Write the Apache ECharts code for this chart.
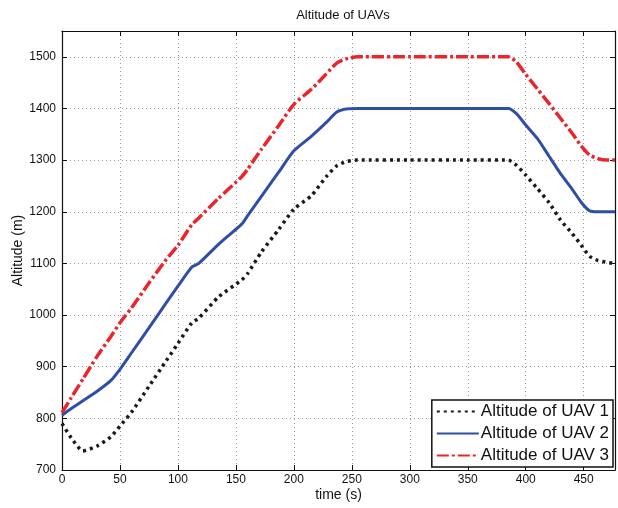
<!DOCTYPE html>
<html>
<head>
<meta charset="utf-8">
<script src="https://cdn.jsdelivr.net/npm/echarts@6/dist/echarts.min.js"></script>
<style>
  html, body { margin: 0; padding: 0; background: #fff; }
  #main { width: 618px; height: 508px; }
</style>
</head>
<body>
<div id="main"></div>
<script>
// time samples (s)
var times = [0, 8, 18, 30, 42, 50, 60, 75, 90, 100, 112, 118, 135, 155, 160, 172, 187, 200, 215, 228, 237, 245, 255, 300, 350, 385, 392, 400, 410, 420, 430, 440, 448, 455, 462, 470, 477];
// altitudes (m)
var uav1 = [790, 762, 737, 746, 764, 785, 812, 862, 912, 945, 985, 994, 1035, 1068, 1080, 1122, 1166, 1205, 1231, 1268, 1289, 1297, 1300, 1300, 1300, 1300, 1290, 1271, 1245, 1218, 1184, 1158, 1135, 1114, 1106, 1102, 1100];
var uav2 = [806, 819, 834, 852, 873, 895, 927, 975, 1024, 1056, 1093, 1100, 1137, 1176, 1192, 1230, 1277, 1318, 1346, 1373, 1393, 1399, 1400, 1400, 1400, 1400, 1390, 1368, 1342, 1308, 1274, 1244, 1218, 1202, 1200, 1200, 1200];
var uav3 = [811, 840, 876, 919, 958, 985, 1014, 1062, 1108, 1135, 1175, 1188, 1226, 1268, 1282, 1321, 1367, 1408, 1437, 1467, 1488, 1496, 1500, 1500, 1500, 1500, 1490, 1466, 1438, 1410, 1381, 1352, 1327, 1310, 1303, 1300, 1300];
var names = ['Altitude of UAV 1', 'Altitude of UAV 2', 'Altitude of UAV 3'];

function pairs(ys) {
  return times.map(function (t, i) { return [t, ys[i]]; });
}
function plain(v) { return String(v); }

var font = 'Liberation Sans, Arial, sans-serif';
var xRange = { min: 0, max: 477, interval: 50 };
var yRange = { min: 700, max: 1550, interval: 100 };

var myChart = echarts.init(document.getElementById('main'));
myChart.setOption({
  animation: false,
  title: {
    text: 'Altitude of UAVs',
    left: 338, top: 4, textAlign: 'center',
    textStyle: { fontFamily: font, fontSize: 13, fontWeight: 'normal', color: '#111' }
  },
  grid: { left: 62, right: 3, top: 31, bottom: 38, outerBoundsMode: 'none', containLabel: false },
  legend: {
    right: 5, bottom: 41, orient: 'vertical',
    backgroundColor: '#fff', borderColor: '#111', borderWidth: 1.5,
    padding: [3, 4, 3, 4], itemGap: 5, itemWidth: 42, itemHeight: 18,
    itemStyle: { opacity: 0 },
    textStyle: { fontFamily: font, fontSize: 17, color: '#111', padding: [0, 0, 0, -3] },
    data: names
  },
  xAxis: [{
    type: 'value', min: xRange.min, max: xRange.max, interval: xRange.interval,
    name: 'time (s)', nameLocation: 'middle', nameGap: 18, nameMoveOverlap: false,
    nameTextStyle: { fontFamily: font, fontSize: 14, color: '#111', verticalAlign: 'top' },
    axisLine: { onZero: false, lineStyle: { color: '#111', width: 1.2 } },
    axisTick: { inside: true, length: 5, lineStyle: { color: '#111' } },
    axisLabel: { fontFamily: font, fontSize: 12, color: '#111', margin: 4, showMaxLabel: false, formatter: plain },
    splitLine: { show: true, lineStyle: { color: '#9a9a9a', type: [1, 3], width: 1 } }
  }, {
    type: 'value', position: 'top', min: xRange.min, max: xRange.max, interval: xRange.interval,
    axisLine: { onZero: false, lineStyle: { color: '#111', width: 1.2 } },
    axisTick: { inside: true, length: 5, lineStyle: { color: '#111' } },
    axisLabel: { show: false }, splitLine: { show: false }
  }],
  yAxis: [{
    type: 'value', min: yRange.min, max: yRange.max, interval: yRange.interval,
    name: 'Altitude (m)', nameLocation: 'middle', nameGap: 37, nameMoveOverlap: false,
    nameTextStyle: { fontFamily: font, fontSize: 14, color: '#111' },
    axisLine: { show: true, onZero: false, lineStyle: { color: '#111', width: 1.2 } },
    axisTick: { show: true, inside: true, length: 5, lineStyle: { color: '#111' } },
    axisLabel: { fontFamily: font, fontSize: 12, color: '#111', margin: 6, showMaxLabel: false, formatter: plain },
    splitLine: { show: true, lineStyle: { color: '#9a9a9a', type: [1, 3], width: 1 } }
  }, {
    type: 'value', position: 'right', min: yRange.min, max: yRange.max, interval: yRange.interval,
    axisLine: { show: true, onZero: false, lineStyle: { color: '#111', width: 1.2 } },
    axisTick: { show: true, inside: true, length: 5, lineStyle: { color: '#111' } },
    axisLabel: { show: false }, splitLine: { show: false }
  }],
  series: [{
    name: names[0], type: 'line', showSymbol: false, symbol: 'none', smooth: 0.2,
    data: pairs(uav1), z: 3,
    itemStyle: { color: '#1a1a1a' },
    lineStyle: { color: '#1a1a1a', width: 3.5, type: [3, 4] }
  }, {
    name: names[1], type: 'line', showSymbol: false, symbol: 'none', smooth: 0.2,
    data: pairs(uav2), z: 3,
    itemStyle: { color: '#2f4ea6' },
    lineStyle: { color: '#2f4ea6', width: 3 }
  }, {
    name: names[2], type: 'line', showSymbol: false, symbol: 'none', smooth: 0.2,
    data: pairs(uav3), z: 3,
    itemStyle: { color: '#e8262c' },
    lineStyle: { color: '#e8262c', width: 3.5, type: [12, 3, 3, 3] }
  }]
});
</script>
</body>
</html>
